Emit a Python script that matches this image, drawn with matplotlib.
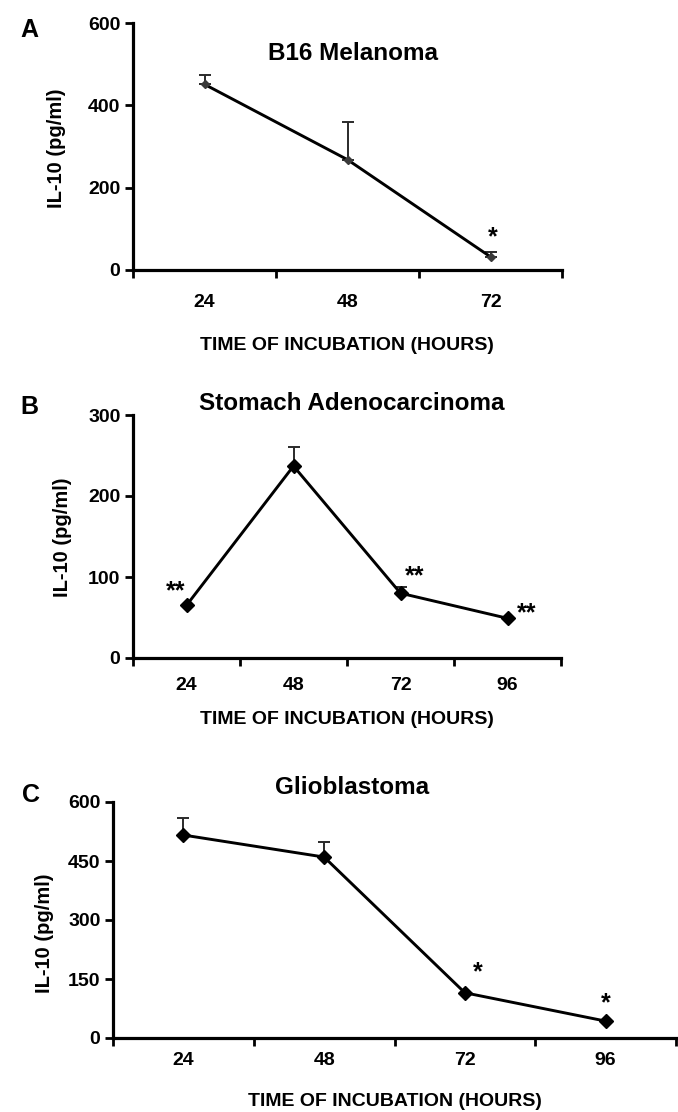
import matplotlib
matplotlib.use('Agg')
import matplotlib.pyplot as plt
import numpy as np

plt.rcParams['font.family'] = ['Liberation Sans', 'DejaVu Sans']
plt.rcParams['font.weight'] = 'bold'

# panel A: B16 melanoma
a_hours = ['24', '48', '72']
a_il10 = [451, 268, 32]
a_err = [22, 91, 12]

# panel B: stomach adenocarcinoma
b_hours = ['24', '48', '72', '96']
b_il10 = [65, 237, 80, 49]
b_err = [0, 23, 8, 0]

# panel C: glioblastoma
c_hours = ['24', '48', '72', '96']
c_il10 = [516, 460, 115, 43]
c_err = [44, 39, 0, 0]

W, H = 678, 1112
fig = plt.figure(figsize=(W / 100, H / 100), dpi=100)


def px(x, y):
    return x / W, 1 - y / H


def make_panel(rect, hours, vals, errs, ymax, yticks, mcolor, ms, pad):
    x0, y0, x1, y1 = rect
    ax = fig.add_axes([x0 / W, 1 - y1 / H, (x1 - x0) / W, (y1 - y0) / H])
    n = len(hours)
    xs = np.arange(1, n + 1)
    ax.errorbar(xs, vals, yerr=[np.zeros(n), errs], fmt='none',
                ecolor='#2a2a2a', elinewidth=1.4, capsize=4.5, capthick=1.4)
    ax.plot(xs, vals, color='black', lw=2.1, marker='D', ms=ms,
            mfc=mcolor, mec=mcolor, zorder=3)
    ax.set_xlim(0.5, n + 0.5)
    ax.set_ylim(0, ymax)
    ax.set_yticks(yticks)
    ax.set_xticks(np.arange(0.5, n + 1, 1.0))
    ax.set_xticklabels([])
    ax.set_xticks(xs, minor=True)
    ax.set_xticklabels(hours, minor=True)
    ax.tick_params(axis='x', which='major', direction='out', length=6, width=2)
    ax.tick_params(axis='x', which='minor', length=0, pad=pad, labelsize=14)
    ax.tick_params(axis='y', direction='out', length=6, width=2, labelsize=14, pad=3)
    for s in ['top', 'right']:
        ax.spines[s].set_visible(False)
    for s in ['left', 'bottom']:
        ax.spines[s].set_linewidth(2.3)
    for lab in ax.get_xticklabels(minor=True) + ax.get_yticklabels():
        lab.set_fontweight('bold')
    ax.set_facecolor('none')
    return ax


def star(ax, x, y, txt, dx, dy):
    ax.annotate(txt, (x, y), xytext=(dx, dy), textcoords='offset pixels',
                ha='center', va='center', fontsize=18, fontweight='bold',
                annotation_clip=False)


TSIZE = 17.5
YSIZE = 14.5
XSIZE = 14

# A
axA = make_panel((133, 23, 562, 270), a_hours, a_il10, a_err, 600,
                 [0, 200, 400, 600], '#3a3a3a', 4.5, 17)
star(axA, 3, a_il10[2], '*', 2, 20)
fig.text(*px(20, 30), 'A', fontsize=18, fontweight='bold', ha='left', va='center')
fig.text(*px(353, 53), 'B16 Melanoma', fontsize=TSIZE, fontweight='bold', ha='center', va='center')
fig.text(*px(57, 148), 'IL-10 (pg/ml)', fontsize=YSIZE, fontweight='bold',
         rotation=90, ha='center', va='center')
fig.text(*px(347, 345), 'TIME OF INCUBATION (HOURS)', fontsize=XSIZE,
         fontweight='bold', ha='center', va='center')

# B
axB = make_panel((133, 415, 561, 658), b_hours, b_il10, b_err, 300,
                 [0, 100, 200, 300], 'black', 7.5, 14)
star(axB, 1, b_il10[0], '**', -11, 14)
star(axB, 3, b_il10[2], '**', 14, 17)
star(axB, 4, b_il10[3], '**', 19, 5)
fig.text(*px(20, 407), 'B', fontsize=18, fontweight='bold', ha='left', va='center')
fig.text(*px(352, 403), 'Stomach Adenocarcinoma', fontsize=TSIZE, fontweight='bold',
         ha='center', va='center')
fig.text(*px(63, 537), 'IL-10 (pg/ml)', fontsize=YSIZE, fontweight='bold',
         rotation=90, ha='center', va='center')
fig.text(*px(347, 720), 'TIME OF INCUBATION (HOURS)', fontsize=XSIZE,
         fontweight='bold', ha='center', va='center')

# C
axC = make_panel((113, 802, 676, 1038), c_hours, c_il10, c_err, 600,
                 [0, 150, 300, 450, 600], 'black', 7.5, 10)
star(axC, 3, c_il10[2], '*', 13, 20)
star(axC, 4, c_il10[3], '*', 0, 18)
fig.text(*px(22, 795), 'C', fontsize=18, fontweight='bold', ha='left', va='center')
fig.text(*px(352, 788), 'Glioblastoma', fontsize=TSIZE, fontweight='bold',
         ha='center', va='center')
fig.text(*px(44, 933), 'IL-10 (pg/ml)', fontsize=YSIZE, fontweight='bold',
         rotation=90, ha='center', va='center')
fig.text(*px(395, 1102), 'TIME OF INCUBATION (HOURS)', fontsize=XSIZE,
         fontweight='bold', ha='center', va='center')

fig.savefig('out.png', dpi=100)
